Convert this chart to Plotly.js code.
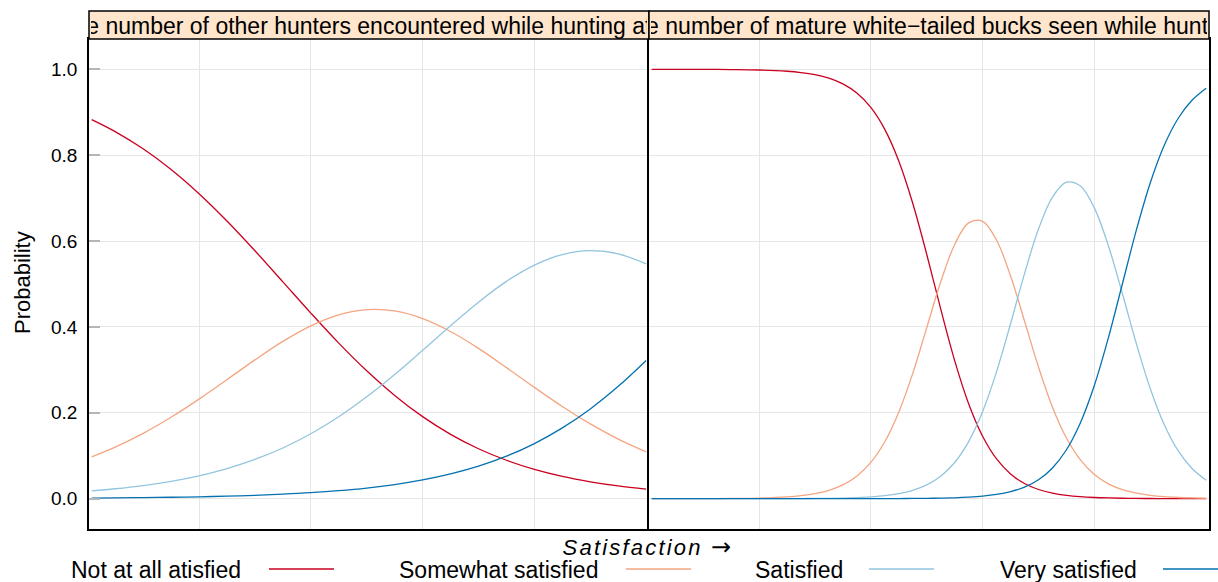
<!DOCTYPE html>
<html><head><meta charset="utf-8">
<script src="https://cdn.plot.ly/plotly-3.0.1.min.js"></script>
<style>
html,body{margin:0;padding:0;background:#fff;}
#chart{width:1218px;height:582px;}
.annotation[data-index="2"] text{letter-spacing:2.2px;}
</style></head><body><div id="chart"></div>
<script>
// ---- data ----
const categories = ["Not at all atisfied", "Somewhat satisfied", "Satisfied", "Very satisfied"];
const colors = ["#CA0020", "#F4A582", "#92C5DE", "#0571B0"];
const panelTitles = [
  "The number of other hunters encountered while hunting after",
  "The number of mature white\u2212tailed bucks seen while hunting"
];
const xTitle = "Satisfaction <span style=\"font-family:'DejaVu Sans';font-style:normal;font-size:24px\">\u2192</span>";
const yTitle = "Probability";
const yTickVals = [0, 0.2, 0.4, 0.6, 0.8, 1.0];
const yTickText = ["0.0", "0.2", "0.4", "0.6", "0.8", "1.0"];
const xGrid = [1, 2, 3, 4];

// panel 1: other hunters encountered
const satisfactionHunters = [0.04,0.25,0.5,0.75,1,1.25,1.5,1.75,2,2.25,2.5,2.75,3,3.25,3.5,3.75,4,4.25,4.5,4.75,5];
const huntersNotAtAll = [0.8829,0.8550,0.8149,0.7667,0.7104,0.6468,0.5775,0.5050,0.4323,0.3623,0.2978,0.2405,0.1911,0.1499,0.1163,0.0895,0.0683,0.0519,0.0393,0.0296,0.0223];
const huntersSomewhat = [0.0975,0.1201,0.1520,0.1895,0.2318,0.2772,0.3232,0.3664,0.4026,0.4282,0.4402,0.4372,0.4196,0.3895,0.3501,0.3053,0.2592,0.2147,0.1741,0.1388,0.1090];
const huntersSatisfied = [0.0182,0.0231,0.0306,0.0405,0.0534,0.0701,0.0914,0.1181,0.1512,0.1908,0.2372,0.2893,0.3456,0.4029,0.4577,0.5062,0.5441,0.5686,0.5775,0.5700,0.5469];
const huntersVery = [0.0014,0.0018,0.0025,0.0033,0.0044,0.0059,0.0078,0.0105,0.0140,0.0187,0.0248,0.0330,0.0437,0.0577,0.0758,0.0990,0.1284,0.1649,0.2091,0.2616,0.3219];

// panel 2: mature bucks seen
const satisfactionBucks = [0.04,0.25,0.5,0.75,1,1.25,1.375,1.5,1.625,1.75,1.875,2,2.125,2.25,2.375,2.5,2.625,2.75,2.875,3,3.125,3.25,3.375,3.5,3.625,3.75,3.875,4,4.125,4.25,4.375,4.5,4.625,4.75,4.875,5];
const bucksNotAtAll = [1.0,0.9999,0.9998,0.9994,0.9984,0.9955,0.9925,0.9876,0.9795,0.9662,0.9449,0.9112,0.8601,0.7865,0.6881,0.5693,0.4419,0.3216,0.2212,0.1454,0.0925,0.0575,0.0353,0.0214,0.0130,0.0078,0.0047,0.0028,0.0017,0.0010,0.0006,0.0004,0.0002,0.0001,0.0001,0.0001];
const bucksSomewhat = [0.0,0.0001,0.0002,0.0006,0.0015,0.0043,0.0071,0.0118,0.0196,0.0322,0.0525,0.0844,0.1327,0.2015,0.2919,0.3979,0.5045,0.5919,0.6424,0.6459,0.6018,0.5187,0.4137,0.3065,0.2132,0.1412,0.0902,0.0563,0.0346,0.0210,0.0127,0.0077,0.0046,0.0028,0.0017,0.0010];
const bucksSatisfied = [0,0,0,0,0,0.0002,0.0003,0.0006,0.0009,0.0015,0.0026,0.0043,0.0071,0.0118,0.0195,0.0321,0.0524,0.0843,0.1329,0.2028,0.2959,0.4074,0.5242,0.6279,0.7023,0.7370,0.7282,0.6768,0.5891,0.4780,0.3613,0.2560,0.1721,0.1111,0.0698,0.0431];
const bucksVery = [0,0,0,0,0,0,0,0,0,0,0,0.0001,0.0002,0.0003,0.0005,0.0008,0.0013,0.0021,0.0036,0.0059,0.0098,0.0163,0.0269,0.0441,0.0716,0.1140,0.1769,0.2641,0.3746,0.5000,0.6254,0.7359,0.8231,0.8860,0.9284,0.9559];

const panels = [
  {x: satisfactionHunters, series: [huntersNotAtAll, huntersSomewhat, huntersSatisfied, huntersVery]},
  {x: satisfactionBucks, series: [bucksNotAtAll, bucksSomewhat, bucksSatisfied, bucksVery]}
];

// ---- geometry helpers (pixel -> paper) ----
const W = 1218, H = 582, M = {l: 89, r: 9, t: 39, b: 53};
const PW = W - M.l - M.r, PH = H - M.t - M.b;
const px = x => (x - M.l) / PW;
const py = y => (H - M.b - y) / PH;

const FONT = '"Liberation Sans", Arial, Helvetica, sans-serif';

const traces = [];
panels.forEach((panel, pi) => {
  panel.series.forEach((vals, ci) => {
    traces.push({
      x: panel.x, y: vals, type: 'scatter', mode: 'lines',
      name: categories[ci], showlegend: false,
      xaxis: pi === 0 ? 'x' : 'x2', yaxis: pi === 0 ? 'y' : 'y2',
      line: {color: colors[ci], width: 1.3, shape: 'spline', smoothing: 1},
      hoverinfo: 'x+y+name'
    });
  });
});

const xCommon = {
  range: [0.016, 5.025], tickvals: xGrid, showticklabels: false, ticks: '',
  showgrid: true, gridcolor: '#e6e6e6', gridwidth: 1, zeroline: false,
  showline: true, mirror: true, linecolor: '#000', linewidth: 1.5
};
const yCommon = {
  range: [-0.0706, 1.0706], tickvals: yTickVals, ticktext: yTickText,
  showgrid: true, gridcolor: '#e6e6e6', gridwidth: 1, zeroline: false,
  showline: true, linecolor: '#000', linewidth: 1.5
};

const stripTop = py(11);
const shapes = [];
const annotations = [];
[0, 1].forEach(i => {
  shapes.push({type: 'rect', xref: 'paper', yref: 'paper', x0: i * 0.5, x1: i * 0.5 + 0.5, y0: 1, y1: stripTop,
    fillcolor: '#FFE5CC', line: {color: '#000', width: 1.5}, layer: 'above'});
});
// strip texts (index 0,1)
[0, 1].forEach(i => {
  annotations.push({text: panelTitles[i], xref: 'paper', yref: 'paper', x: i * 0.5 + 0.25, y: (1 + stripTop) / 2,
    xanchor: 'center', yanchor: 'middle', showarrow: false, width: 556, height: 27, borderpad: 0,
    align: 'center', font: {family: FONT, size: 23, color: '#000'}});
});
// x title (index 2)
annotations.push({text: xTitle, xref: 'paper', yref: 'paper', x: px(648), y: py(547), xanchor: 'center', yanchor: 'middle',
  showarrow: false, font: {family: FONT, size: 22, color: '#000', style: 'italic'}});
// y title (index 3)
annotations.push({text: yTitle, xref: 'paper', yref: 'paper', x: px(22), y: py(283), xanchor: 'center', yanchor: 'middle',
  textangle: -90, showarrow: false, font: {family: FONT, size: 22, color: '#000'}});
// legend
const legTextX = [70, 398, 754, 999];
const legLineX = [269, 626, 869, 1163];
categories.forEach((c, i) => {
  annotations.push({text: c, xref: 'paper', yref: 'paper', x: px(legTextX[i]), y: py(569.5), xanchor: 'left', yanchor: 'middle',
    showarrow: false, borderpad: 0, font: {family: FONT, size: 23, color: '#000'}});
  shapes.push({type: 'line', xref: 'paper', yref: 'paper', x0: px(legLineX[i]), x1: px(legLineX[i] + 65), y0: py(569), y1: py(569),
    line: {color: colors[i], width: 1.3}});
});

const layout = {
  width: W, height: H, margin: M, paper_bgcolor: '#fff', plot_bgcolor: '#fff',
  font: {family: FONT, size: 18, color: '#000'},
  showlegend: false,
  xaxis: Object.assign({}, xCommon, {domain: [0, 0.5], anchor: 'y'}),
  xaxis2: Object.assign({}, xCommon, {domain: [0.5, 1], anchor: 'y2'}),
  yaxis: Object.assign({}, yCommon, {anchor: 'x', mirror: false, ticks: 'inside', ticklen: 11, tickwidth: 1.5, tickcolor: '#b5b5b5',
    tickfont: {family: FONT, size: 19, color: '#000'}, ticklabelstandoff: 6}),
  yaxis2: Object.assign({}, yCommon, {anchor: 'x2', mirror: true, showticklabels: false, ticks: ''}),
  shapes: shapes, annotations: annotations
};

Plotly.newPlot('chart', traces, layout, {displayModeBar: false});
</script></body></html>
